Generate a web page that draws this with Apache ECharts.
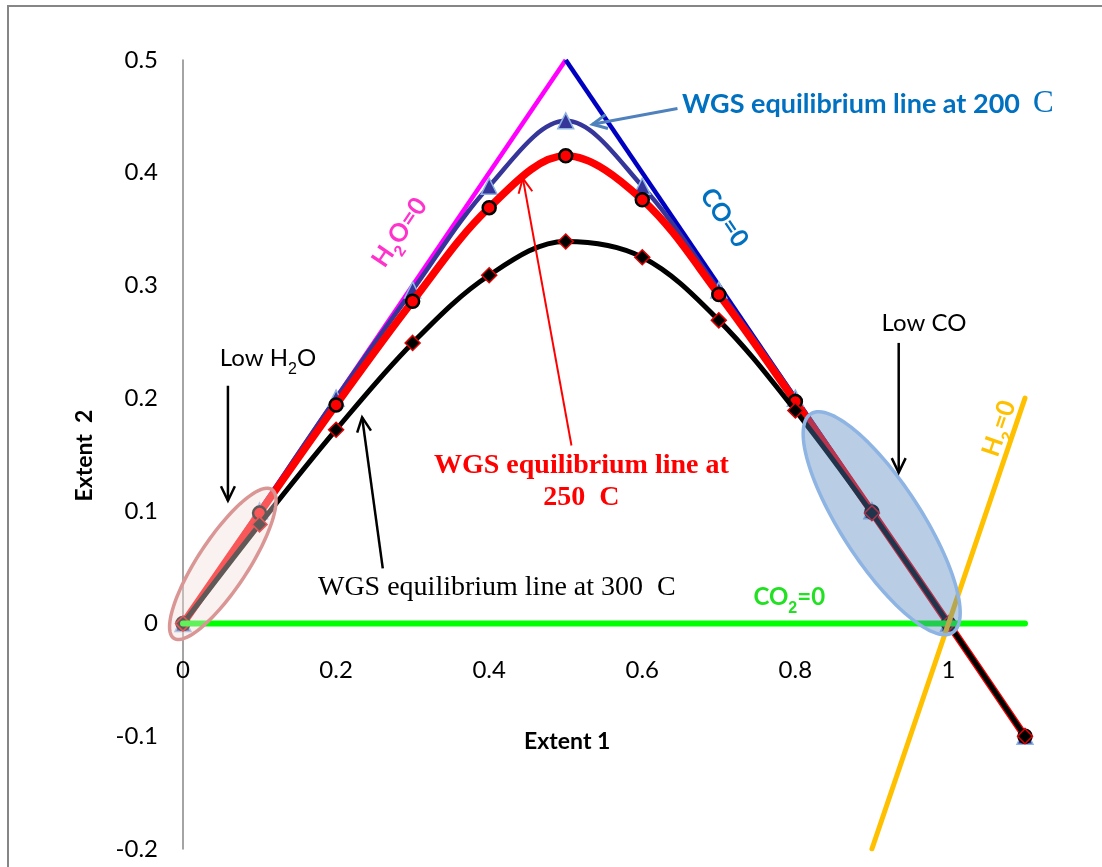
<!DOCTYPE html>
<html>
<head>
<meta charset="utf-8">
<script src="https://cdn.jsdelivr.net/npm/echarts@6/dist/echarts.min.js"></script>
<style>html,body{margin:0;padding:0;background:#fff}#c{width:1102px;height:867px}</style>
</head>
<body>
<div id="c"></div>
<script>
// ---- data ----
var extent1 = [0, 0.1, 0.2, 0.3, 0.4, 0.5, 0.6, 0.7, 0.8, 0.9, 1.0, 1.1];
var wgs200 = [0, 0.1, 0.2, 0.296, 0.388, 0.446, 0.388, 0.296, 0.2, 0.1, 0, -0.1];
var wgs250 = [0, 0.098, 0.194, 0.286, 0.369, 0.415, 0.376, 0.292, 0.197, 0.099, 0, -0.1];
var wgs300 = [0, 0.088, 0.172, 0.249, 0.309, 0.339, 0.325, 0.269, 0.189, 0.098, 0, -0.1];
var h2oZeroX = [0, 0.5], h2oZeroY = [0, 0.5];
var coZeroX = [0.5, 1.1], coZeroY = [0.5, -0.1];
var co2ZeroX = [0, 1.1], co2ZeroY = [0, 0];
var h2ZeroX = [0.9, 1.1], h2ZeroY = [-0.2, 0.2];
var yTicks = [-0.2, -0.1, 0, 0.1, 0.2, 0.3, 0.4, 0.5];
var xTicks = [0, 0.2, 0.4, 0.6, 0.8, 1];

function pairs(xs, ys) { return xs.map(function (x, i) { return [x, ys[i]]; }); }

// ellipse annotations: [tipAx, tipAy, tipBx, tipBy] in data units
var ellipseLowH2O = [-0.012, -0.013, 0.116, 0.119];
var ellipseLowCO = [0.82, 0.186, 1.0055, -0.008];

var chart = echarts.init(document.getElementById('c'));

function ellipseItem(fill, stroke, halfMinor) {
  return function (params, api) {
    var a = api.coord([api.value(0), api.value(1)]);
    var b = api.coord([api.value(2), api.value(3)]);
    var cx = (a[0] + b[0]) / 2, cy = (a[1] + b[1]) / 2;
    var dx = (b[0] - a[0]) / 2, dy = (b[1] - a[1]) / 2;
    var L = Math.sqrt(dx * dx + dy * dy);
    var nx = -dy / L * halfMinor, ny = dx / L * halfMinor;
    var pts = [];
    for (var k = 0; k < 120; k++) {
      var t = k / 120 * Math.PI * 2;
      pts.push([cx + dx * Math.cos(t) + nx * Math.sin(t), cy + dy * Math.cos(t) + ny * Math.sin(t)]);
    }
    return { type: 'polygon', shape: { points: pts }, style: { fill: fill, stroke: stroke, lineWidth: 3.5 } };
  };
}

var FONT = 'Lato, "Open Sans", sans-serif';
var SERIF = '"Liberation Serif", "Times New Roman", serif';

function tickFmt(list) {
  return function (v) {
    for (var i = 0; i < list.length; i++) if (Math.abs(v - list[i]) < 1e-6) return String(list[i]);
    return '';
  };
}

chart.setOption({
  animation: false,
  backgroundColor: '#fff',
  grid: { left: 183, right: 77, top: 60, bottom: 18, containLabel: false, outerBoundsMode: 'none' },
  xAxis: {
    type: 'value', min: 0, max: 1.1, interval: 0.2, position: 'bottom',
    axisLine: { show: false, onZero: false },
    axisTick: { show: false }, splitLine: { show: false },
    axisLabel: { margin: 35, fontSize: 24, color: '#000', fontFamily: FONT, formatter: tickFmt(xTicks) }
  },
  yAxis: {
    type: 'value', min: -0.2, max: 0.5, interval: 0.1,
    axisLine: { show: true, onZero: false, lineStyle: { color: '#868686', width: 1.5 } },
    axisTick: { show: false }, splitLine: { show: false },
    axisLabel: { margin: 25, fontSize: 24, color: '#000', fontFamily: FONT, formatter: tickFmt(yTicks) }
  },
  series: [
    { name: 'H2O=0', type: 'line', data: pairs(h2oZeroX, h2oZeroY), symbol: 'none', z: 2,
      lineStyle: { color: '#ff00ff', width: 4.5 } },
    { name: 'CO=0', type: 'line', data: pairs(coZeroX, coZeroY), symbol: 'none', z: 2,
      lineStyle: { color: '#0000c0', width: 4.5 } },
    { name: '200C', type: 'line', data: pairs(extent1, wgs200), smooth: 0.35, z: 3,
      symbol: 'triangle', symbolSize: 16,
      lineStyle: { color: '#35359a', width: 4.5 },
      itemStyle: { color: '#35359a', borderColor: '#8eb4e3', borderWidth: 1.5 } },
    { name: '250C', type: 'line', data: pairs(extent1, wgs250), smooth: 0.35, z: 4,
      symbol: 'circle', symbolSize: 13,
      lineStyle: { color: '#ff0000', width: 7.5 },
      itemStyle: { color: '#ff0000', borderColor: '#000', borderWidth: 2.5 } },
    { name: '300C', type: 'line', data: pairs(extent1, wgs300), smooth: 0.35, z: 5,
      symbol: 'diamond', symbolSize: 15,
      lineStyle: { color: '#000', width: 5 },
      itemStyle: { color: '#000', borderColor: '#e00000', borderWidth: 1.5 } },
    { name: 'CO2=0', type: 'line', data: pairs(co2ZeroX, co2ZeroY), symbol: 'none', z: 6,
      lineStyle: { color: '#00ff00', width: 6, cap: 'round' } },
    { name: 'H2=0', type: 'line', data: pairs(h2ZeroX, h2ZeroY), symbol: 'none', z: 6,
      lineStyle: { color: '#ffc000', width: 5, cap: 'round' } },
    { name: 'lowH2O', type: 'custom', z: 8, data: [ellipseLowH2O],
      renderItem: ellipseItem('rgba(242,220,219,0.4)', '#d99694', 25) },
    { name: 'lowCO', type: 'custom', z: 8, data: [ellipseLowCO],
      renderItem: ellipseItem('rgba(79,129,189,0.4)', '#8eb4e3', 40) }
  ]
});

function px(p) { return chart.convertToPixel({ gridIndex: 0 }, p); }

// move the x axis up so that it crosses the y axis at 0
var yZero = px([0, 0])[1];
var yBottom = px([0, -0.2])[1];
chart.setOption({ xAxis: { offset: -(yBottom - yZero) } });

// ---- annotations (data coordinates) ----
var sub = { fontSize: 16, verticalAlign: 'bottom', padding: [0, 0, -7, 0] };

function text(pos, str, style, rot) {
  var p = px(pos);
  return {
    type: 'text', x: p[0], y: p[1], rotation: rot || 0, z: 100,
    style: Object.assign({ text: str, align: 'center', verticalAlign: 'middle', fill: '#000',
      fontFamily: FONT, fontSize: 24 }, style)
  };
}
function arrow(from, to, color, w) {
  var a = px(from), b = px(to);
  var ang = Math.atan2(b[1] - a[1], b[0] - a[0]);
  var hl = 16, hw = 0.45;
  var p1 = [b[0] - hl * Math.cos(ang - hw), b[1] - hl * Math.sin(ang - hw)];
  var p2 = [b[0] - hl * Math.cos(ang + hw), b[1] - hl * Math.sin(ang + hw)];
  return [
    { type: 'line', z: 100, shape: { x1: a[0], y1: a[1], x2: b[0], y2: b[1] }, style: { stroke: color, lineWidth: w } },
    { type: 'polyline', z: 100, shape: { points: [p1, b, p2] }, style: { stroke: color, lineWidth: w, fill: null } }
  ];
}
function subOf(color) { return Object.assign({ fill: color, fontWeight: 'bold' }, sub); }

var o = px([0, 0]), u = px([1, 1]);
var ang1 = Math.atan((o[1] - u[1]) / (u[0] - o[0]));
var ang2 = Math.atan(2 * (o[1] - u[1]) / (u[0] - o[0]));
var g = [
  { type: 'rect', shape: { x: 8, y: 6, width: 1110, height: 900 }, style: { fill: null, stroke: '#868686', lineWidth: 2 }, z: 0, silent: true },
  text([0.111, 0.235], 'Low H{s|2}O', { rich: { s: sub } }),
  text([0.968, 0.266], 'Low CO', {}),
  text([0.652, 0.461], 'WGS equilibrium line at 200  {c|C}', {
    align: 'left', fill: '#0070c0', fontWeight: 'bold', fontSize: 27,
    rich: { c: { fontFamily: SERIF, fontSize: 31, fill: '#0070c0' } } }),
  text([0.5205, 0.126], 'WGS equilibrium line at\n250  C', {
    fill: '#ff0000', fontWeight: 'bold', fontSize: 28, lineHeight: 32, fontFamily: SERIF }),
  text([0.41, 0.032], 'WGS equilibrium line at 300  C', { fontSize: 28, fontFamily: SERIF }),
  text([0.792, 0.023], 'CO{s|2}=0', { fill: '#22e022', fontWeight: 'bold', fontSize: 24,
    rich: { s: subOf('#22e022') } }),
  text([0.283, 0.347], 'H{s|2}O=0', { fill: '#ff33cc', fontWeight: 'bold', fontSize: 25,
    rich: { s: subOf('#ff33cc') } }, ang1),
  text([0.707, 0.36], 'CO=0', { fill: '#0070c0', fontWeight: 'bold', fontSize: 25 }, -ang1),
  text([1.066, 0.173], 'H{s|2}=0', { fill: '#ffc000', fontWeight: 'bold', fontSize: 25,
    rich: { s: subOf('#ffc000') } }, ang2),
  text([0.502, -0.105], 'Extent 1', { fontWeight: 'bold', fontSize: 23 }),
  text([-0.128, 0.149], 'Extent  2', { fontWeight: 'bold', fontSize: 23 }, Math.PI / 2)
];
g = g.concat(arrow([0.646, 0.457], [0.535, 0.443], '#4f81bd', 3));
g = g.concat(arrow([0.5075, 0.158], [0.444, 0.395], '#ff0000', 2));
g = g.concat(arrow([0.261, 0.049], [0.234, 0.183], '#000', 2.5));
g = g.concat(arrow([0.0587, 0.211], [0.0587, 0.109], '#000', 2.5));
g = g.concat(arrow([0.935, 0.249], [0.935, 0.134], '#000', 2.5));
chart.setOption({ graphic: g });
</script>
</body>
</html>
